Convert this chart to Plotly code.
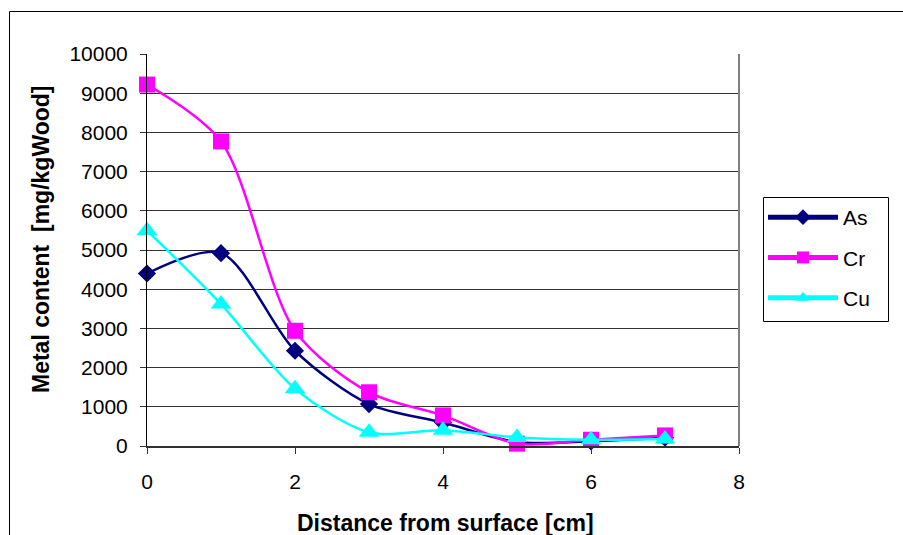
import plotly.graph_objects as go

# Distance from the treated surface [cm]
distance = [0, 1, 2, 3, 4, 5, 6, 7]

# Metal content per element [mg/kg wood]
as_content = [4400, 4920, 2430, 1070, 600, 100, 120, 210]
cr_content = [9220, 7770, 2940, 1370, 780, 60, 160, 270]
cu_content = [5500, 3620, 1460, 350, 400, 220, 160, 180]

x_ticks = [0, 2, 4, 6, 8]
y_ticks = list(range(0, 10001, 1000))

FONT = "Liberation Sans, Arial, sans-serif"

W, H = 903, 535
L, R, T, B = 147, 164, 54, 89
PW, PH = W - L - R, H - T - B


def px_x(p):
    return (p - L) / PW


def px_y(p):
    return (H - B - p) / PH


series = [
    ("As", as_content, "#000080", "diamond", 14),
    ("Cr", cr_content, "#FF00FF", "square", 16),
    ("Cu", cu_content, "#00FFFF", "triangle-up", 18),
]

fig = go.Figure()
for name, vals, color, symbol, size in series:
    fig.add_trace(go.Scatter(
        x=distance, y=vals, name=name, legendgroup=name,
        mode="lines+markers",
        line=dict(color=color, width=2.5, shape="spline", smoothing=0.85),
        marker=dict(symbol=symbol, size=size, color=color,
                    line=dict(width=0)),
        cliponaxis=False,
    ))

# chart-area frame
fig.add_shape(type="rect", xref="paper", yref="paper",
              x0=px_x(9.5), x1=px_x(930), y0=px_y(560), y1=px_y(11.5),
              line=dict(color="#000000", width=1), layer="below")

# legend frame
fig.add_shape(type="rect", xref="paper", yref="paper",
              x0=px_x(763.5), x1=px_x(888.5), y0=px_y(321.5), y1=px_y(197.5),
              line=dict(color="#000000", width=1), fillcolor="white",
              layer="above")

fig.update_layout(
    width=W, height=H,
    margin=dict(l=L, r=R, t=T, b=B, pad=0),
    paper_bgcolor="white", plot_bgcolor="white",
    font=dict(family=FONT, size=21, color="black"),
    showlegend=True,
    legend=dict(
        x=px_x(763), y=px_y(197), xanchor="left", yanchor="top",
        borderwidth=0, bgcolor="rgba(0,0,0,0)",
        font=dict(family=FONT, size=21),
        tracegroupgap=10, traceorder="grouped", itemsizing="constant",
        itemwidth=70,
    ),
    xaxis=dict(
        range=[0, 8], tickvals=x_ticks, ticktext=[str(v) for v in x_ticks],
        showgrid=False, zeroline=False,
        showline=True, linecolor="#303030", linewidth=1.5,
        ticks="outside", ticklen=6, tickcolor="#303030", tickwidth=1,
        ticklabelstandoff=10,
    ),
    yaxis=dict(
        range=[0, 10000], tickvals=y_ticks, ticktext=[str(v) for v in y_ticks],
        showgrid=True, gridcolor="#333333", gridwidth=1, zeroline=False,
        showline=True, linecolor="#000000", linewidth=1,
        ticks="outside", ticklen=6, tickcolor="#333333", tickwidth=1,
        ticklabelstandoff=8,
    ),
    annotations=[
        dict(text="<b>Distance from surface [cm]</b>", xref="paper", yref="paper",
             x=px_x(445), y=px_y(523), xanchor="center", yanchor="middle",
             showarrow=False, font=dict(family=FONT, size=23)),
        dict(text="<b>Metal content  [mg/kgWood]</b>", xref="paper", yref="paper",
             x=px_x(41), y=px_y(239), xanchor="center", yanchor="middle",
             textangle=-90, showarrow=False, font=dict(family=FONT, size=23)),
    ],
)

# plot-area border on the right side
fig.add_shape(type="line", xref="paper", yref="paper", x0=1, x1=1, y0=0, y1=1,
              line=dict(color="#808080", width=2))

fig.write_html("out.html")
